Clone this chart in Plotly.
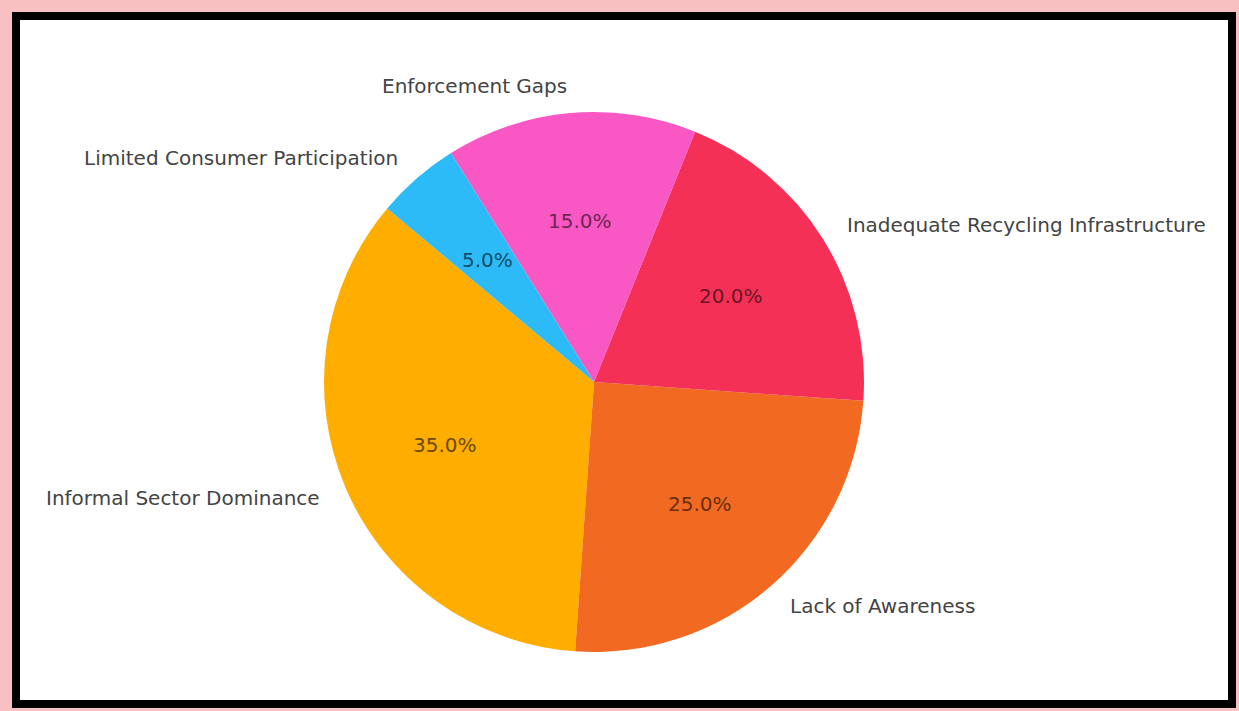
import math
import plotly.graph_objects as go

categories = ["Informal Sector Dominance", "Lack of Awareness", "Inadequate Recycling Infrastructure",
              "Enforcement Gaps", "Limited Consumer Participation"]
values = [35, 25, 20, 15, 5]
colors = ["#FFAE00", "#F26A22", "#F53057", "#F957C4", "#2DBBF7"]
pct_colors = ["#6B4A00", "#6A2E0F", "#6C1526", "#6E2657", "#134F69"]
start_angle = 140  # degrees, counterclockwise from 3 o'clock

W, H = 1239, 711
cx, cy, r = 594, 382, 270
dom_x = [(cx - r) / W, (cx + r) / W]
dom_y = [(H - cy - r) / H, (H - cy + r) / H]

total = sum(values)
first_span = 360 * values[0] / total
ROT = (90 - start_angle) - first_span  # plotly: clockwise from 12 o'clock

fig = go.Figure()
fig.add_trace(go.Pie(
    labels=categories, values=values, sort=False, direction="counterclockwise",
    rotation=ROT, marker=dict(colors=colors, line=dict(width=0)),
    textinfo="none", domain=dict(x=dom_x, y=dom_y), showlegend=False,
    hoverinfo="label+percent",
))

# label / percent positions derived from the data (matplotlib-style)
mid_x, mid_y = [], []
acc = start_angle
for v in values:
    span = 360 * v / total
    mid = math.radians(acc + span / 2)
    mid_x.append(math.cos(mid))
    mid_y.append(math.sin(mid))
    acc += span

# invisible scatter to anchor the cartesian axes
fig.add_trace(go.Scatter(x=[0], y=[0], mode="markers", marker=dict(opacity=0),
                         hoverinfo="skip", showlegend=False))

annotations = []
for i, (cat, v) in enumerate(zip(categories, values)):
    annotations.append(dict(
        x=0.6 * mid_x[i], y=0.6 * mid_y[i], xref="x", yref="y",
        text=f"{100 * v / total:.1f}%", showarrow=False,
        xanchor="center", yanchor="middle", borderpad=0,
        font=dict(family="DejaVu Sans", size=20, color=pct_colors[i]),
    ))
    annotations.append(dict(
        x=1.1 * mid_x[i], y=1.1 * mid_y[i], xref="x", yref="y",
        text=cat, showarrow=False,
        xanchor="left" if mid_x[i] > 0 else "right", yanchor="middle", borderpad=0,
        font=dict(family="DejaVu Sans", size=20, color="#444444"),
    ))

fig.update_layout(
    width=W, height=H, margin=dict(l=0, r=0, t=0, b=0),
    paper_bgcolor="#F8C0C0", plot_bgcolor="rgba(0,0,0,0)",
    xaxis=dict(range=[-cx / r, (W - cx) / r], visible=False, fixedrange=True),
    yaxis=dict(range=[-(H - cy) / r, cy / r], visible=False, fixedrange=True),
    annotations=annotations,
    shapes=[
        dict(type="rect", xref="paper", yref="paper", layer="below",
             x0=16 / W, x1=(W - 7) / W, y0=7 / H, y1=(H - 16) / H,
             line=dict(color="black", width=8), fillcolor="white"),
    ],
)
fig.write_html("out.html")
